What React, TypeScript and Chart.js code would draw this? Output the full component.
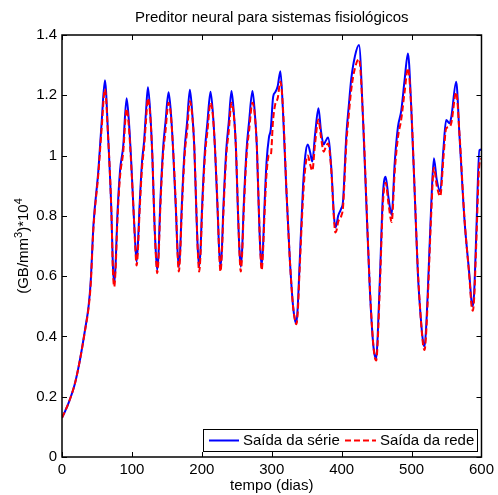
import React, { useEffect, useRef } from "react";
import { Chart, registerables } from "chart.js";

Chart.register(...registerables);

const TITLE = "Preditor neural para sistemas fisiológicos";
const X_LABEL = "tempo (dias)";
const SERIES_LABELS = ["Saída da série", "Saída da rede"];
const X_TICKS = [0, 100, 200, 300, 400, 500, 600];
const Y_TICKS = [0, 0.2, 0.4, 0.6, 0.8, 1, 1.2, 1.4];

const days = [
  0, 5, 10, 18.5, 25.5, 33, 38, 41, 45, 52, 56.7, 61.4,
  66, 70.7, 72.7,
  74.7, 76.7, 79, 83, 87.5, 92.4, 95.5, 99, 102.7, 104.7,
  106.7, 108.7, 110.7, 114.5, 117.5, 120, 122.9, 126, 129.2, 132.2, 134.2,
  136.2, 138.2, 140.2, 144.5, 148, 152.4, 155.5, 158.7, 163.1, 165.1,
  167.1, 169.1, 171.1, 175.4, 178.9, 182.9, 186, 189.2, 192.2, 194.2,
  196.2, 198.2, 200.2, 204.5, 208, 212.4, 215.5, 218.7, 222.7, 224.7,
  226.7, 228.7, 230.7, 235, 238.5, 242.4, 245.5, 248.7, 251.7, 253.7,
  255.7, 257.7, 259.7, 264, 267.5, 272.4, 275.5, 278.7, 281.6, 283.6,
  285.6, 287.6, 289.6, 292.6, 296, 298.5, 302, 305, 308.5, 312.4, 316, 321, 326, 330.5, 333.2, 335.2, 337.2, 339.5,
  344.8, 348, 351.5, 355, 358, 362, 366.8, 370.5, 374.3, 377.5, 380.5, 385.2,
  389, 391, 393, 395, 399.5, 402, 406.7, 410, 413.8, 419, 424.8, 430.5, 435.2, 440, 444.8, 447.5,
  449.5, 451.5, 455.2, 459, 462.9, 467, 471.5, 476, 480.5, 485.2, 490, 494.8, 499.5, 504.3, 509,
  513.8, 516.6, 518.6, 520.6, 523.3, 528, 531.9, 536, 541, 545.5, 549.5, 554.3, 557, 563.8, 568.6,
  575.7, 582.9, 585.6, 587.6, 589.6, 592.4, 597, 600,
];

const serie = [
  0.13, 0.155, 0.183, 0.244, 0.32, 0.423, 0.5, 0.58, 0.77, 0.95, 1.11, 1.25,
  1.063, 0.81, 0.64,
  0.576, 0.64, 0.79, 0.95, 1.03, 1.19, 1.12, 0.98, 0.8, 0.71,
  0.648, 0.71, 0.82, 0.98, 1.05, 1.14, 1.227, 1.15, 1.0, 0.78, 0.68,
  0.62, 0.68, 0.82, 1.02, 1.11, 1.21, 1.15, 1.03, 0.81, 0.69,
  0.631, 0.69, 0.82, 1.02, 1.11, 1.218, 1.15, 1.03, 0.81, 0.69,
  0.631, 0.69, 0.82, 1.02, 1.11, 1.212, 1.15, 1.03, 0.81, 0.69,
  0.631, 0.69, 0.82, 1.02, 1.11, 1.214, 1.15, 1.03, 0.81, 0.69,
  0.631, 0.69, 0.82, 1.02, 1.11, 1.214, 1.15, 1.03, 0.81, 0.69,
  0.635, 0.7, 0.83, 0.98, 1.06, 1.085, 1.195, 1.21, 1.23, 1.28, 1.15, 0.88, 0.65, 0.5, 0.455, 0.443, 0.5, 0.62,
  0.9, 1.0, 1.037, 1.01, 0.98, 1.07, 1.157, 1.08, 1.037, 1.05, 1.06, 0.958,
  0.8, 0.761, 0.775, 0.8, 0.825, 0.85, 1.068, 1.16, 1.256, 1.33, 1.367, 1.124, 0.847, 0.571, 0.383, 0.335,
  0.327, 0.4, 0.626, 0.869, 0.93, 0.86, 0.803, 0.98, 1.095, 1.148, 1.25, 1.339, 1.162, 0.886, 0.609,
  0.443, 0.38, 0.366, 0.42, 0.554, 0.83, 0.991, 0.92, 0.88, 1.02, 1.118, 1.107, 1.13, 1.245, 1.063,
  0.786, 0.598, 0.52, 0.5, 0.55, 0.731, 1.018, 1.02,
];

const rede = [
  0.13, 0.155, 0.183, 0.244, 0.32, 0.42, 0.495, 0.57, 0.76, 0.94, 1.09, 1.22,
  1.06, 0.81, 0.625,
  0.565, 0.625, 0.77, 0.93, 1.01, 1.155, 1.1, 0.97, 0.8, 0.7,
  0.635, 0.69, 0.8, 0.96, 1.03, 1.11, 1.19, 1.14, 1.0, 0.78, 0.67,
  0.61, 0.665, 0.8, 1.0, 1.08, 1.175, 1.14, 1.03, 0.82, 0.685,
  0.615, 0.675, 0.8, 1.0, 1.08, 1.18, 1.14, 1.03, 0.82, 0.685,
  0.615, 0.675, 0.8, 1.0, 1.08, 1.175, 1.14, 1.03, 0.82, 0.685,
  0.615, 0.675, 0.8, 1.0, 1.08, 1.175, 1.14, 1.03, 0.82, 0.685,
  0.615, 0.675, 0.8, 1.0, 1.08, 1.175, 1.14, 1.03, 0.82, 0.685,
  0.62, 0.685, 0.8, 0.94, 1.0, 1.0, 1.12, 1.17, 1.19, 1.245, 1.16, 0.89, 0.65, 0.5, 0.455, 0.44, 0.48, 0.6,
  0.86, 0.96, 1.0, 0.97, 0.95, 1.04, 1.12, 1.06, 1.013, 1.03, 1.04, 0.95,
  0.79, 0.745, 0.755, 0.78, 0.8, 0.83, 1.04, 1.13, 1.22, 1.29, 1.32, 1.13, 0.86, 0.58, 0.385, 0.33,
  0.32, 0.38, 0.6, 0.84, 0.91, 0.84, 0.78, 0.95, 1.06, 1.12, 1.21, 1.29, 1.16, 0.89, 0.62,
  0.44, 0.37, 0.355, 0.4, 0.53, 0.8, 0.96, 0.9, 0.865, 0.99, 1.09, 1.095, 1.11, 1.21, 1.07,
  0.79, 0.59, 0.505, 0.485, 0.53, 0.7, 0.97, 0.99,
];

const FONT = '"Liberation Sans", Arial, Helvetica, sans-serif';
const FS = 15;

const decorPlugin = {
  id: "decor",
  afterDraw(chart: any) {
    const { ctx, chartArea: a, scales } = chart;
    const xs = scales.x;
    const ys = scales.y;
    ctx.save();
    ctx.strokeStyle = "#000";
    ctx.lineWidth = 1.5;
    ctx.strokeRect(a.left, a.top, a.right - a.left, a.bottom - a.top);
    const tl = 5;
    ctx.lineWidth = 1;
    ctx.beginPath();
    for (const v of X_TICKS) {
      const px = Math.round(xs.getPixelForValue(v)) + 0.5;
      ctx.moveTo(px, a.bottom);
      ctx.lineTo(px, a.bottom - tl);
      ctx.moveTo(px, a.top);
      ctx.lineTo(px, a.top + tl);
    }
    for (const v of Y_TICKS) {
      const py = Math.round(ys.getPixelForValue(v)) + 0.5;
      ctx.moveTo(a.left, py);
      ctx.lineTo(a.left + tl, py);
      ctx.moveTo(a.right, py);
      ctx.lineTo(a.right - tl, py);
    }
    ctx.stroke();

    const cx = (a.left + a.right) / 2;
    ctx.fillStyle = "#000";
    ctx.font = `${FS}px ${FONT}`;
    ctx.textAlign = "center";
    ctx.textBaseline = "alphabetic";
    ctx.fillText(TITLE, cx, 22);
    ctx.fillText(X_LABEL, cx, 490);

    const cy = (a.top + a.bottom) / 2;
    const parts: [string, boolean][] = [
      ["(GB/mm", false],
      ["3", true],
      [")*10", false],
      ["4", true],
    ];
    const supFont = `${Math.round(FS * 0.7)}px ${FONT}`;
    const normFont = `${FS}px ${FONT}`;
    let total = 0;
    for (const [t, sup] of parts) {
      ctx.font = sup ? supFont : normFont;
      total += ctx.measureText(t).width;
    }
    ctx.save();
    ctx.translate(28, cy);
    ctx.rotate(-Math.PI / 2);
    ctx.textAlign = "left";
    let xpos = -total / 2;
    for (const [t, sup] of parts) {
      ctx.font = sup ? supFont : normFont;
      ctx.fillText(t, xpos, sup ? -6 : 0);
      xpos += ctx.measureText(t).width;
    }
    ctx.restore();

    const lx = 203, ly = 429, lw = 274, lh = 22;
    ctx.fillStyle = "#fff";
    ctx.fillRect(lx, ly, lw, lh);
    ctx.strokeStyle = "#000";
    ctx.lineWidth = 1;
    ctx.strokeRect(lx + 0.5, ly + 0.5, lw, lh);
    const my = ly + lh / 2 + 0.5;
    ctx.lineWidth = 2;
    ctx.strokeStyle = "#0000ff";
    ctx.beginPath();
    ctx.moveTo(209, my);
    ctx.lineTo(239, my);
    ctx.stroke();
    ctx.strokeStyle = "#ff0000";
    ctx.setLineDash([6, 3]);
    ctx.beginPath();
    ctx.moveTo(345, my);
    ctx.lineTo(376, my);
    ctx.stroke();
    ctx.setLineDash([]);
    ctx.fillStyle = "#000";
    ctx.font = normFont;
    ctx.textAlign = "left";
    ctx.textBaseline = "middle";
    ctx.fillText(SERIES_LABELS[0], 243, my);
    ctx.fillText(SERIES_LABELS[1], 380, my);
    ctx.restore();
  },
};

export default function App() {
  const ref = useRef<HTMLCanvasElement | null>(null);
  useEffect(() => {
    document.body.style.margin = "0";
    const canvas = ref.current!;
    const chart = new Chart(canvas, {
      type: "line",
      data: {
        datasets: [
          {
            label: SERIES_LABELS[1],
            data: days.map((d, i) => ({ x: d, y: rede[i] })),
            borderColor: "#ff0000",
            borderWidth: 2,
            borderDash: [6, 3],
            pointRadius: 0,
            cubicInterpolationMode: "monotone",
            fill: false,
          },
          {
            label: SERIES_LABELS[0],
            data: days.map((d, i) => ({ x: d, y: serie[i] })),
            borderColor: "#0000ff",
            borderWidth: 2,
            pointRadius: 0,
            cubicInterpolationMode: "monotone",
            fill: false,
          },
        ],
      },
      options: {
        responsive: false,
        animation: false,
        devicePixelRatio: 1,
        layout: { padding: { left: 0, right: 16, top: 35, bottom: 0 } },
        plugins: {
          legend: { display: false },
          tooltip: { enabled: false },
          title: { display: false },
        },
        scales: {
          x: {
            type: "linear",
            min: 0,
            max: 600,
            afterBuildTicks: (s: any) => {
              s.ticks = X_TICKS.map((v) => ({ value: v }));
            },
            afterFit: (s: any) => {
              s.height = 38;
            },
            ticks: {
              color: "#000",
              font: { family: FONT, size: FS },
              padding: 4,
              maxRotation: 0,
              autoSkip: false,
            },
            grid: { display: false, drawTicks: false },
            border: { display: false },
          },
          y: {
            type: "linear",
            min: 0,
            max: 1.4,
            afterBuildTicks: (s: any) => {
              s.ticks = Y_TICKS.map((v) => ({ value: v }));
            },
            afterFit: (s: any) => {
              s.width = 62;
            },
            ticks: {
              color: "#000",
              font: { family: FONT, size: FS },
              padding: 5,
              autoSkip: false,
              callback: (v: any) => String(Number(Number(v).toFixed(1))),
            },
            grid: { display: false, drawTicks: false },
            border: { display: false },
          },
        },
      },
      plugins: [decorPlugin],
    });
    return () => chart.destroy();
  }, []);
  return (
    <div style={{ position: "absolute", left: 0, top: 0, width: 498, height: 495, background: "#fff" }}>
      <canvas ref={ref} width={498} height={495} style={{ display: "block" }} />
    </div>
  );
}
